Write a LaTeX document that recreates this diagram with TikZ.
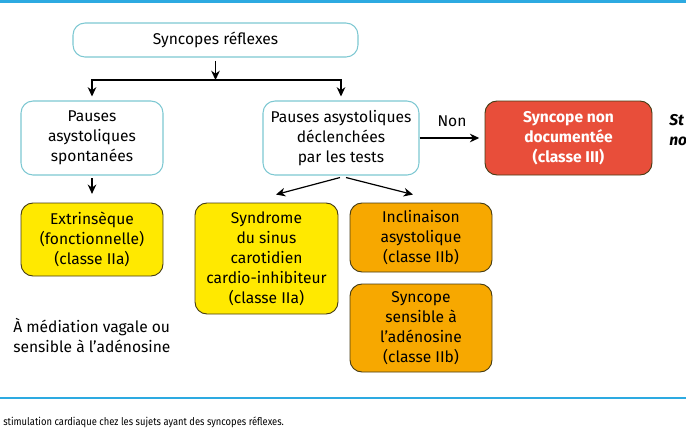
\documentclass[tikz,border=0pt]{standalone}
\usepackage{fontspec}
\setmainfont{Fira Sans}
\usetikzlibrary{arrows.meta}
\definecolor{rulebleu}{RGB}{45,170,225}
\definecolor{bordturq}{RGB}{125,200,210}
\definecolor{jaune}{RGB}{255,233,0}
\definecolor{orange}{RGB}{247,168,0}
\definecolor{rouge}{RGB}{232,78,58}
\definecolor{bordfonce}{RGB}{70,60,20}
\tikzset{
  boite/.style={draw, rounded corners=9pt, align=center, inner sep=0pt,
    font=\fontsize{11.7}{15}\selectfont},
  blanche/.style={boite, draw=bordturq, line width=0.8pt, fill=white},
  jaunebox/.style={boite, draw=bordfonce, line width=0.7pt, fill=jaune},
  orangebox/.style={boite, draw=bordfonce, line width=0.7pt, fill=orange},
  rougebox/.style={boite, draw=bordfonce, line width=0.7pt, fill=rouge,
    text=white, font=\fontsize{11.7}{15}\selectfont\bfseries},
  fleche/.style={-{Stealth[length=7pt,width=6.5pt]}, line width=0.9pt}
}
\begin{document}
\begin{tikzpicture}[x=0.75pt, y=-0.75pt]
   \useasboundingbox (0,0) rectangle (686,430);
   \clip (0,0) rectangle (686,430);
   \draw[rulebleu, line width=1.6pt] (0,1.5) -- (686,1.5);
   \draw[rulebleu, line width=1.8pt] (0,398) -- (686,398);
   \node[blanche, minimum width=213.75pt, minimum height=25.5pt] (reflexes) at (215.5,40) {Syncopes réflexes};
   \node[blanche, minimum width=106.5pt, minimum height=55.5pt] (spont) at (92,138) {Pauses\\asystoliques\\spontanées};
   \node[blanche, minimum width=117pt, minimum height=55.5pt] (tests) at (341,138) {Pauses asystoliques\\déclenchées\\par les tests};
   \node[rougebox, minimum width=125.25pt, minimum height=55.5pt] (nondoc) at (568.5,138) {Syncope non\\documentée\\(classe III)};
   \node[jaunebox, minimum width=106.5pt, minimum height=54.75pt] (extr) at (92,239.5) {Extrinsèque\\(fonctionnelle)\\(classe IIa)};
   \node[jaunebox, minimum width=107.25pt, minimum height=83.25pt] (sinus) at (266.5,258.5) {Syndrome\\du sinus\\carotidien\\cardio-inhibiteur\\(classe IIa)};
   \node[orangebox, minimum width=106.5pt, minimum height=51.75pt] (inclin) at (421,237.5) {Inclinaison\\asystolique\\(classe IIb)};
   \node[orangebox, minimum width=106.5pt, minimum height=66pt] (adeno) at (421,328) {Syncope\\sensible à\\l’adénosine\\(classe IIb)};
   \node[anchor=west, align=left, inner sep=0pt, font=\fontsize{11.7}{15}\selectfont] (vagale) at (13,335) {À médiation vagale ou\\sensible à l’adénosine};
   \node[anchor=west, align=left, inner sep=0pt, font=\fontsize{11.7}{15}\selectfont\bfseries\itshape] (stim) at (669,130) {St\\no};
   \node[anchor=west, inner sep=0pt, font=\fontsize{8}{9}\selectfont] (legende) at (3,422) {\scalebox{0.88}[1]{stimulation cardiaque chez les sujets ayant des syncopes réflexes.}};
   \coordinate (fourche) at (215.5,80);
   \draw[fleche, shorten <=2.5pt] (reflexes.south) -- (fourche);
   \draw[fleche, shorten >=3pt] (fourche) -| (spont.north);
   \draw[fleche, shorten >=3pt] (fourche) -| (tests.north);
   \draw[fleche, shorten <=2pt, shorten >=6.5pt] (spont.south) -- (extr.north);
   \draw[fleche] ([shift={(-1,2)}]tests.south) -- ([shift={(9.5,-8)}]sinus.north);
   \draw[fleche] ([shift={(5,2)}]tests.south) -- ([shift={(-8,-8)}]inclin.north);
   \draw[fleche, shorten >=4pt] (tests.east) -- node[above=5pt, font=\fontsize{11.7}{15}\selectfont] {Non} (nondoc.west);
\end{tikzpicture}
\end{document}
